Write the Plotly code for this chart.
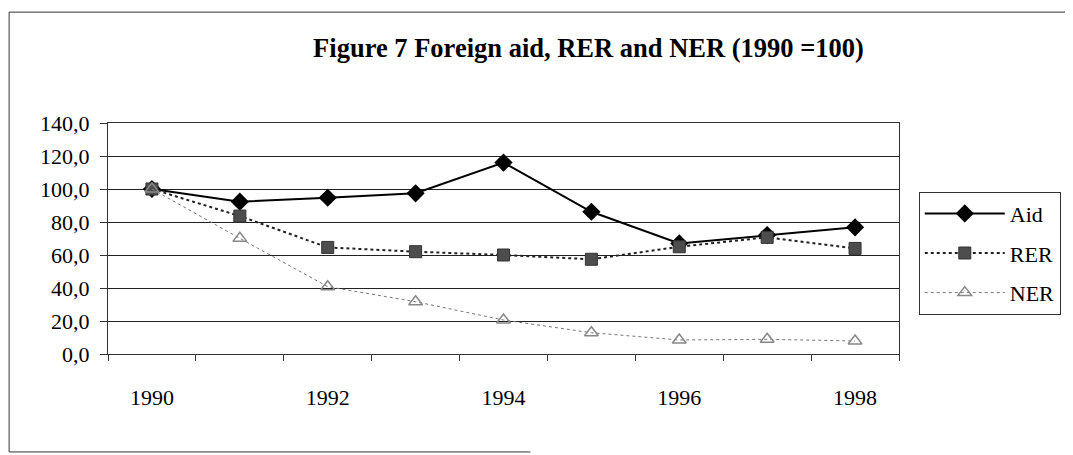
import plotly.graph_objects as go

years = [1990, 1991, 1992, 1993, 1994, 1995, 1996, 1997, 1998]
aid = [100.0, 92.3, 94.7, 97.4, 116.0, 86.2, 67.0, 72.1, 76.8]
rer = [100.0, 83.6, 64.6, 62.0, 60.0, 57.4, 65.0, 70.7, 64.0]
ner = [100.0, 70.1, 40.8, 31.7, 20.6, 12.9, 8.5, 8.9, 7.9]
year_labels = ["1990", "1992", "1994", "1996", "1998"]
y_ticks = [0, 20, 40, 60, 80, 100, 120, 140]

SERIF = "Liberation Serif, Times New Roman, serif"

fig = go.Figure()
fig.add_trace(go.Scatter(
    x=years, y=aid, name="Aid", mode="lines+markers", legendgroup="aid",
    line=dict(color="black", width=2),
    marker=dict(symbol="diamond", size=14, color="black"),
))
fig.add_trace(go.Scatter(
    x=years, y=rer, name="RER", mode="lines+markers", legendgroup="rer",
    line=dict(color="#222222", width=2, dash="dot"),
    marker=dict(symbol="square", size=12, color="#4d4d4d",
                line=dict(color="#333333", width=1)),
))
fig.add_trace(go.Scatter(
    x=years, y=ner, name="NER", mode="lines+markers", legendgroup="ner",
    line=dict(color="#777777", width=1, dash="dot"),
    marker=dict(symbol="triangle-up-open", size=12, color="#888888",
                line=dict(width=1.5)),
))

# outer chart frame (left, top, partial bottom)
frame = dict(type="line", xref="paper", yref="paper",
             line=dict(color="#333333", width=1))
fig.add_shape(x0=-0.125, x1=-0.125, y0=-0.424, y1=1.48, **frame)
fig.add_shape(x0=-0.125, x1=1.25, y0=1.48, y1=1.48, **frame)
fig.add_shape(x0=-0.125, x1=0.534, y0=-0.424, y1=-0.424, **frame)

# page body has an 8px margin, so margins are shifted by that amount
fig.update_layout(
    width=1073, height=455,
    margin=dict(l=100, r=182, t=115, b=109),
    paper_bgcolor="white", plot_bgcolor="white",
    font=dict(family=SERIF, size=22, color="black"),
    title=dict(
        text="<b>Figure 7 Foreign aid, RER and NER (1990 =100)</b>",
        x=0.541, xref="container", xanchor="center",
        y=0.912, yref="container", yanchor="middle",
        font=dict(family=SERIF, size=26.5, color="black"),
    ),
    showlegend=True,
    legend=dict(
        x=1.025, y=0.703, xanchor="left", yanchor="top",
        bordercolor="#333333", borderwidth=1, bgcolor="white",
        font=dict(family=SERIF, size=22, color="black"),
        itemwidth=80, tracegroupgap=8,
    ),
    xaxis=dict(
        range=[1989.5, 1998.5],
        tickvals=years[::2], ticktext=year_labels,
        ticks="", showgrid=False, zeroline=False,
        showline=True, linecolor="#333333", linewidth=1, mirror=True,
        ticklabelstandoff=24,
        minor=dict(tick0=1989.5, dtick=1, ticks="outside", ticklen=6,
                   tickcolor="#333333", showgrid=False),
        tickfont=dict(family=SERIF, size=22),
    ),
    yaxis=dict(
        range=[0, 140], tickvals=y_ticks,
        ticktext=[f"{v:.1f}".replace(".", ",") for v in y_ticks],
        ticks="outside", ticklen=7, tickcolor="#333333",
        showgrid=True, gridcolor="#222222", gridwidth=1,
        zeroline=False, showline=True, linecolor="#333333", linewidth=1,
        mirror=True, ticklabelstandoff=6,
        tickfont=dict(family=SERIF, size=22),
    ),
)

fig.write_html("out.html")
